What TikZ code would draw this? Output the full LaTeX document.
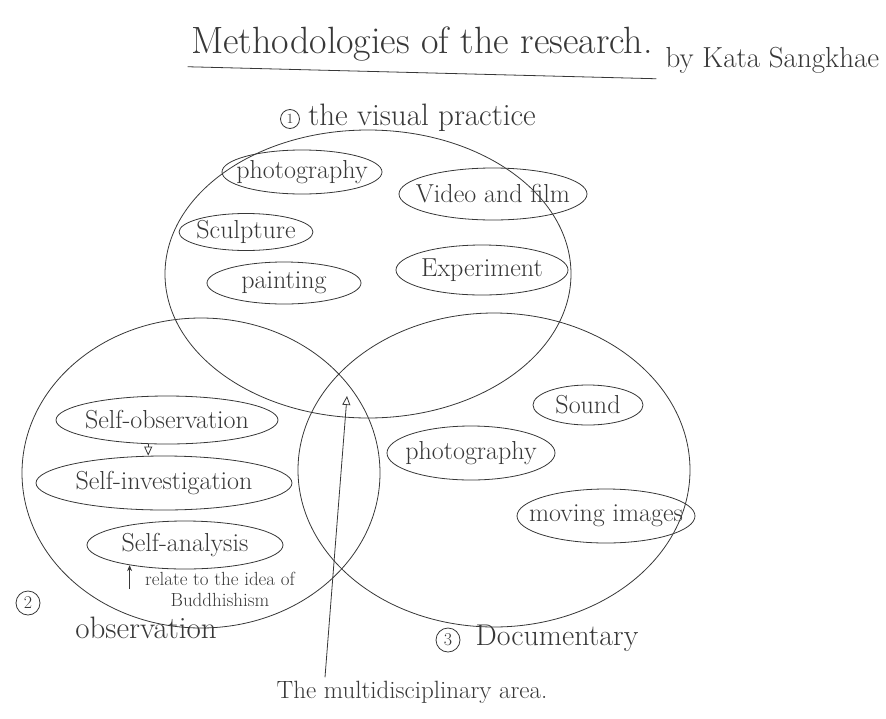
\documentclass[tikz,border=0pt]{standalone}
\usepackage{tikz}
\usetikzlibrary{arrows.meta,positioning,shapes.geometric}
\definecolor{penink}{RGB}{55,55,55}

\begin{document}
\begin{tikzpicture}[x=1pt,y=-1pt,
pen/.style={draw=penink,line width=.8pt},
zone/.style={pen,ellipse,inner sep=0pt},
item/.style={pen,ellipse,inner xsep=-14pt,inner ysep=0pt,text=penink,font=\fontsize{26}{30}\selectfont},
lbl/.style={text=penink,font=\fontsize{31}{36}\selectfont},
num/.style={pen,circle,inner sep=0pt,minimum size=24pt,text=penink,font=\fontsize{18}{20}\selectfont},
arr/.style={pen,-{Triangle[open,length=9pt,width=8pt]}},
up/.style={pen,-{Stealth[length=6pt,width=5pt]}}]

\useasboundingbox (0,0) rectangle (886,718);

% title
\node[lbl,font=\fontsize{38}{42}\selectfont] (title) at (422,44) {Methodologies of the research.};
\draw[pen] ([yshift=-2pt]title.south west) -- ([yshift=-14pt]title.south east);
\node[lbl,font=\fontsize{29}{33}\selectfont,anchor=west] (author) at (662,60) {by Kata Sangkhae};

% the three fields
\node[zone,minimum width=406pt,minimum height=288pt] (visual) at (368,274) {};
\node[zone,minimum width=358pt,minimum height=310pt] (observe) at (201,473) {};
\node[zone,minimum width=392pt,minimum height=314pt] (document) at (494,470) {};

\node[lbl] (visuallbl) at (422,118) {the visual practice};
\node[num,minimum size=19pt,font=\fontsize{14}{16}\selectfont] (one) at (290,119) {1};
\node[lbl] (observelbl) at (146,628) {observation};
\node[num] (two) at (28,603) {2};
\node[lbl,font=\fontsize{30}{34}\selectfont] (documentlbl) at (557,638) {Documentary};
\node[num] (three) at (448,640) {3};

% visual practice
\node[item,minimum width=160pt,minimum height=44pt] (vphoto) at (302,172) {photography};
\node[item,minimum width=188pt,minimum height=52pt] (video) at (493,194) {Video and film};
\node[item,minimum width=134pt,minimum height=37pt] (sculpt) at (246,232) {Sculpture};
\node[item,minimum width=154pt,minimum height=42pt] (paint) at (284,283) {painting};
\node[item,minimum width=172pt,minimum height=50pt] (exper) at (482,270) {Experiment};

% observation
\node[item,minimum width=222pt,minimum height=48pt] (sobs) at (167,420) {Self-observation};
\node[item,minimum width=256pt,minimum height=54pt] (sinv) at (164,483) {Self-investigation};
\node[item,minimum width=196pt,minimum height=48pt] (sana) at (185,545) {Self-analysis};
\node[text=penink,font=\fontsize{19}{21}\selectfont,align=center] (note) at (220,589) {relate to the idea of\\Buddhishism};

\draw[arr] (sobs.232) -- (sobs.232 |- sinv.north);
\draw[up] (sana.200 |- note.west) -- (sana.200);

% documentary
\node[item,minimum width=110pt,minimum height=40pt] (sound) at (588,405) {Sound};
\node[item,minimum width=168pt,minimum height=54pt] (dphoto) at (471,453) {photography};
\node[item,minimum width=176pt,minimum height=54pt] (moving) at (606,516) {moving images};

% overlap
\coordinate (core) at (347,396);
\node[lbl,font=\fontsize{25}{28}\selectfont] (arena) at (412,692) {The multidisciplinary area.};
\draw[arr] ([xshift=-87pt]arena.north) -- (core);
\end{tikzpicture}
\end{document}
